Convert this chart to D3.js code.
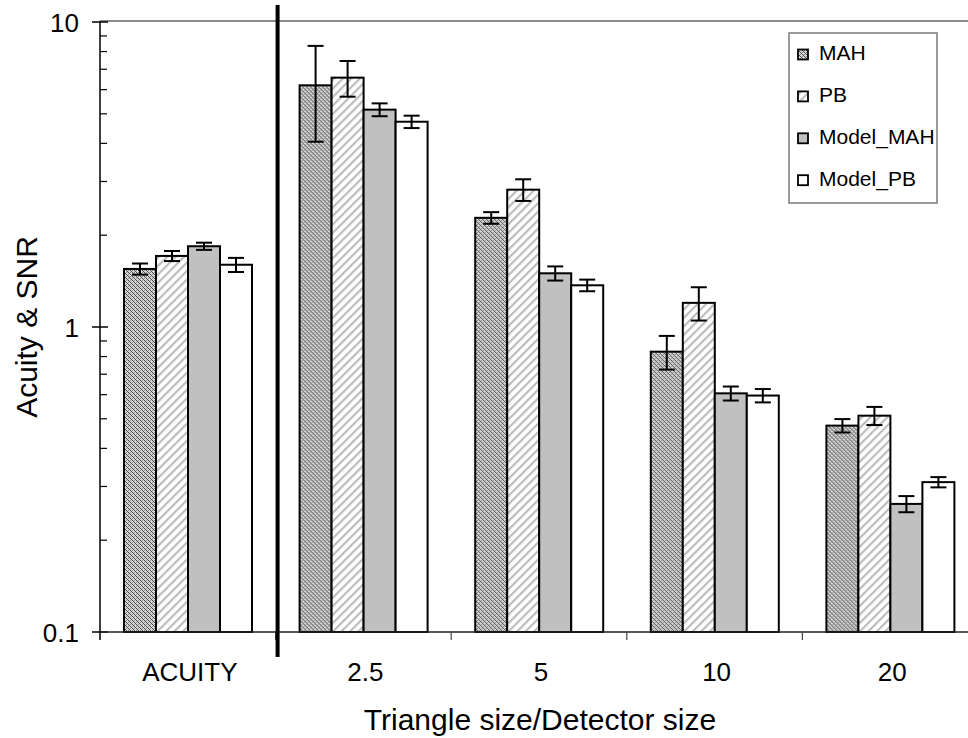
<!DOCTYPE html>
<html>
<head>
<meta charset="utf-8">
<script src="https://cdn.jsdelivr.net/npm/d3@7"></script>
<style>
  body { margin: 0; background: #fff; }
  text { font-family: "Liberation Sans", Arial, sans-serif; fill: #000; }
</style>
</head>
<body>
<div id="chart_div"></div>
<script>
var categories = ["ACUITY", "2.5", "5", "10", "20"];
var series = ["MAH", "PB", "Model_MAH", "Model_PB"];

var mah         = [1.55, 6.2, 2.28, 0.83, 0.475];
var mah_err     = [0.065, 2.15, 0.1, 0.105, 0.024];
var pb          = [1.71, 6.57, 2.82, 1.2, 0.512];
var pb_err      = [0.065, 0.88, 0.23, 0.15, 0.035];
var model_mah   = [1.84, 5.16, 1.5, 0.606, 0.263];
var model_mah_err = [0.05, 0.25, 0.08, 0.032, 0.016];
var model_pb    = [1.6, 4.71, 1.37, 0.596, 0.31];
var model_pb_err  = [0.085, 0.22, 0.06, 0.03, 0.012];

var y_ticks = [0.1, 1, 10];

var values = [mah, pb, model_mah, model_pb];
var errors = [mah_err, pb_err, model_mah_err, model_pb_err];
var fills = ["url(#pat_mah)", "url(#pat_pb)", "#c0c0c0", "#ffffff"];

var chart_width = 968;
var chart_height = 738;

var chart = d3.select("#chart_div").append("svg")
    .attr("width", chart_width)
    .attr("height", chart_height);

// patterns for the two measured series
var defs = chart.append("defs");
var p1 = defs.append("pattern")
    .attr("id", "pat_mah")
    .attr("patternUnits", "userSpaceOnUse")
    .attr("width", 4).attr("height", 4);
p1.append("rect").attr("width", 4).attr("height", 4).attr("fill", "#d8d8d8");
[[0, 0], [1, 1], [2, 2], [3, 3], [2, 0], [0, 2]].forEach(function(d, i) {
    p1.append("rect")
        .attr("x", d[0]).attr("y", d[1])
        .attr("width", 1).attr("height", 1)
        .attr("fill", i < 4 ? "#4a4a4a" : "#8a8a8a");
});

var p2 = defs.append("pattern")
    .attr("id", "pat_pb")
    .attr("patternUnits", "userSpaceOnUse")
    .attr("width", 6).attr("height", 6)
    .attr("patternTransform", "rotate(45)");
p2.append("rect").attr("width", 6).attr("height", 6).attr("fill", "#ffffff");
p2.append("rect").attr("x", 0).attr("width", 2.2).attr("height", 6).attr("fill", "#bdbdbd");

var x0 = d3.scaleBand().domain(categories).range([100, 978]);
var x1 = d3.scaleBand().domain(series).range([24, 152]);
var y = d3.scaleLog().domain([0.1, 10]).range([632, 22]);

// plot area top border (gray)
chart.append("line")
    .attr("x1", 100).attr("x2", chart_width)
    .attr("y1", 21).attr("y2", 21)
    .attr("stroke", "#8c8c8c").attr("stroke-width", 2);

// bars
var groups = chart.selectAll("g.group")
    .data(categories)
    .enter().append("g")
    .attr("class", "group")
    .attr("transform", function(d) { return "translate(" + x0(d) + ",0)"; });

groups.selectAll("rect")
    .data(function(d, ci) {
        return series.map(function(s, si) {
            return { s: s, si: si, v: values[si][ci], e: errors[si][ci] };
        });
    })
    .enter().append("rect")
    .attr("x", function(d) { return x1(d.s); })
    .attr("width", x1.bandwidth())
    .attr("y", function(d) { return y(d.v); })
    .attr("height", function(d) { return y(0.1) - y(d.v); })
    .attr("fill", function(d) { return fills[d.si]; })
    .attr("stroke", "#000")
    .attr("stroke-width", 2);

// error bars
var eb = groups.selectAll("g.err")
    .data(function(d, ci) {
        return series.map(function(s, si) {
            return { s: s, v: values[si][ci], e: errors[si][ci] };
        });
    })
    .enter().append("g")
    .attr("class", "err")
    .attr("stroke", "#000")
    .attr("stroke-width", 2);
eb.append("line")
    .attr("x1", function(d) { return x1(d.s) + x1.bandwidth() / 2; })
    .attr("x2", function(d) { return x1(d.s) + x1.bandwidth() / 2; })
    .attr("y1", function(d) { return y(d.v + d.e); })
    .attr("y2", function(d) { return y(d.v - d.e); });
[1, -1].forEach(function(sign) {
    eb.append("line")
        .attr("x1", function(d) { return x1(d.s) + x1.bandwidth() / 2 - 8; })
        .attr("x2", function(d) { return x1(d.s) + x1.bandwidth() / 2 + 8; })
        .attr("y1", function(d) { return y(d.v + sign * d.e); })
        .attr("y2", function(d) { return y(d.v + sign * d.e); });
});

// y axis: line, major ticks crossing, minor ticks inside
chart.append("line")
    .attr("x1", 100).attr("x2", 100)
    .attr("y1", 21).attr("y2", 640)
    .attr("stroke", "#000").attr("stroke-width", 1.5);

var minor = [];
[0.1, 1].forEach(function(dec) {
    for (var k = 2; k <= 9; k++) minor.push(dec * k);
});
chart.selectAll("line.minor")
    .data(minor)
    .enter().append("line")
    .attr("class", "minor")
    .attr("x1", 100).attr("x2", 107)
    .attr("y1", function(d) { return y(d); })
    .attr("y2", function(d) { return y(d); })
    .attr("stroke", "#000").attr("stroke-width", 1.2);

chart.selectAll("line.major")
    .data(y_ticks)
    .enter().append("line")
    .attr("class", "major")
    .attr("x1", 92).attr("x2", 108)
    .attr("y1", function(d) { return y(d); })
    .attr("y2", function(d) { return y(d); })
    .attr("stroke", "#000").attr("stroke-width", 1.5);

chart.selectAll("text.ytick")
    .data(y_ticks)
    .enter().append("text")
    .attr("class", "ytick")
    .attr("x", 79)
    .attr("y", function(d) { return y(d) + 9.5; })
    .attr("text-anchor", "end")
    .attr("font-size", 26)
    .text(function(d) { return d3.format("~g")(d); });

// x axis
chart.append("line")
    .attr("x1", 100).attr("x2", chart_width)
    .attr("y1", 632).attr("y2", 632)
    .attr("stroke", "#222").attr("stroke-width", 1.5);

chart.selectAll("line.xtick")
    .data(categories.slice(1))
    .enter().append("line")
    .attr("class", "xtick")
    .attr("x1", function(d) { return x0(d); })
    .attr("x2", function(d) { return x0(d); })
    .attr("y1", 632).attr("y2", 640)
    .attr("stroke", "#444").attr("stroke-width", 1.2);

chart.selectAll("text.xtick")
    .data(categories)
    .enter().append("text")
    .attr("class", "xtick")
    .attr("x", function(d) { return x0(d) + x0.bandwidth() / 2 + 2; })
    .attr("y", 681)
    .attr("text-anchor", "middle")
    .attr("font-size", 26)
    .text(function(d) { return d; });

// thick separator between ACUITY and the size groups
chart.append("line")
    .attr("x1", x0("2.5") + 2).attr("x2", x0("2.5") + 2)
    .attr("y1", 5).attr("y2", 657)
    .attr("stroke", "#000").attr("stroke-width", 4);

// axis titles
chart.append("text")
    .attr("x", 540).attr("y", 730)
    .attr("text-anchor", "middle")
    .attr("font-size", 30)
    .text("Triangle size/Detector size");

chart.append("text")
    .attr("transform", "translate(37,327) rotate(-90)")
    .attr("text-anchor", "middle")
    .attr("font-size", 30)
    .text("Acuity & SNR");

// legend
var legend = chart.append("g");
legend.append("rect")
    .attr("x", 789).attr("y", 33)
    .attr("width", 148).attr("height", 170)
    .attr("fill", "#fff")
    .attr("stroke", "#7a7a7a").attr("stroke-width", 1.5);

var items = legend.selectAll("g.item")
    .data(series)
    .enter().append("g")
    .attr("class", "item")
    .attr("transform", function(d, i) { return "translate(0," + (60 + i * 41.9) + ")"; });
items.append("rect")
    .attr("x", 798).attr("y", -10.5)
    .attr("width", 10).attr("height", 10)
    .attr("fill", function(d, i) { return fills[i]; })
    .attr("stroke", "#000").attr("stroke-width", 1.8);
items.append("text")
    .attr("x", 819).attr("y", 0)
    .attr("font-size", 21)
    .text(function(d) { return d; });
</script>
</body>
</html>
